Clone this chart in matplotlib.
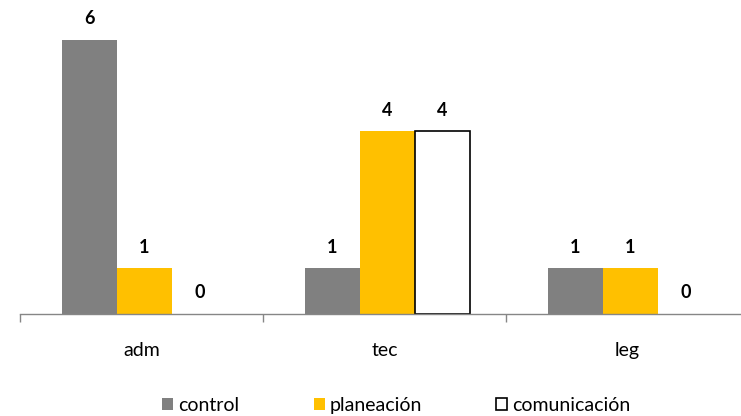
import matplotlib
matplotlib.use("Agg")
import matplotlib.pyplot as plt
from matplotlib.patches import Patch
import numpy as np

categories = ["adm", "tec", "leg"]
series_names = ["control", "planeación", "comunicación"]
control = [6, 1, 1]
planeacion = [1, 4, 1]
comunicacion = [0, 4, 0]

plt.rcParams['font.family'] = ['Lato', 'DejaVu Sans']

fig = plt.figure(figsize=(7.41, 4.16), dpi=100)
W, H = 741, 416
left_px, right_px = 20, 20 + 3 * 243
base_px = 314
unit = 45.7
ymax = 6.5
ax = fig.add_axes([left_px / W, (H - base_px) / H, (right_px - left_px) / W, ymax * unit / H])

x = np.arange(len(categories))
bw = 0.226
styles = [
    dict(facecolor="#808080", edgecolor="none", linewidth=0),
    dict(facecolor="#FFC000", edgecolor="none", linewidth=0),
    dict(facecolor="white", edgecolor="black", linewidth=1.2),
]
data = [control, planeacion, comunicacion]
handles = []
for i, (vals, name, st) in enumerate(zip(data, series_names, styles)):
    pos = x + (i - 1) * bw + 0.012
    bars = ax.bar(pos, vals, bw, **st)
    for b, v in zip(bars, vals):
        if v == 0:
            b.set_linewidth(0)
    handles.append(Patch(label=name, **st))
    for p, v in zip(pos, vals):
        ax.annotate(str(v), (p, v), xytext=(0, 9), textcoords="offset points",
                    ha="center", va="bottom", fontsize=13, fontweight="bold")

ax.set_xlim(-0.5, 2.5)
ax.set_ylim(0, ymax)
for s in ["top", "right", "left"]:
    ax.spines[s].set_visible(False)
ax.spines["bottom"].set_color("#868686")
ax.spines["bottom"].set_linewidth(1)
ax.set_yticks([])
ax.set_xticks(x)
ax.set_xticklabels(categories, fontsize=14)
ax.tick_params(axis="x", which="major", length=0, pad=20)
ax.set_xticks([-0.5, 0.5, 1.5, 2.5], minor=True)
ax.tick_params(axis="x", which="minor", length=6, color="#868686", width=1)

fig.legend(handles=handles, loc="center", bbox_to_anchor=(0.535, 0.026), ncol=3,
           frameon=False, fontsize=14, handlelength=0.57, handleheight=0.57,
           handletextpad=0.27, columnspacing=3.8)

fig.savefig("out.png", dpi=100)
